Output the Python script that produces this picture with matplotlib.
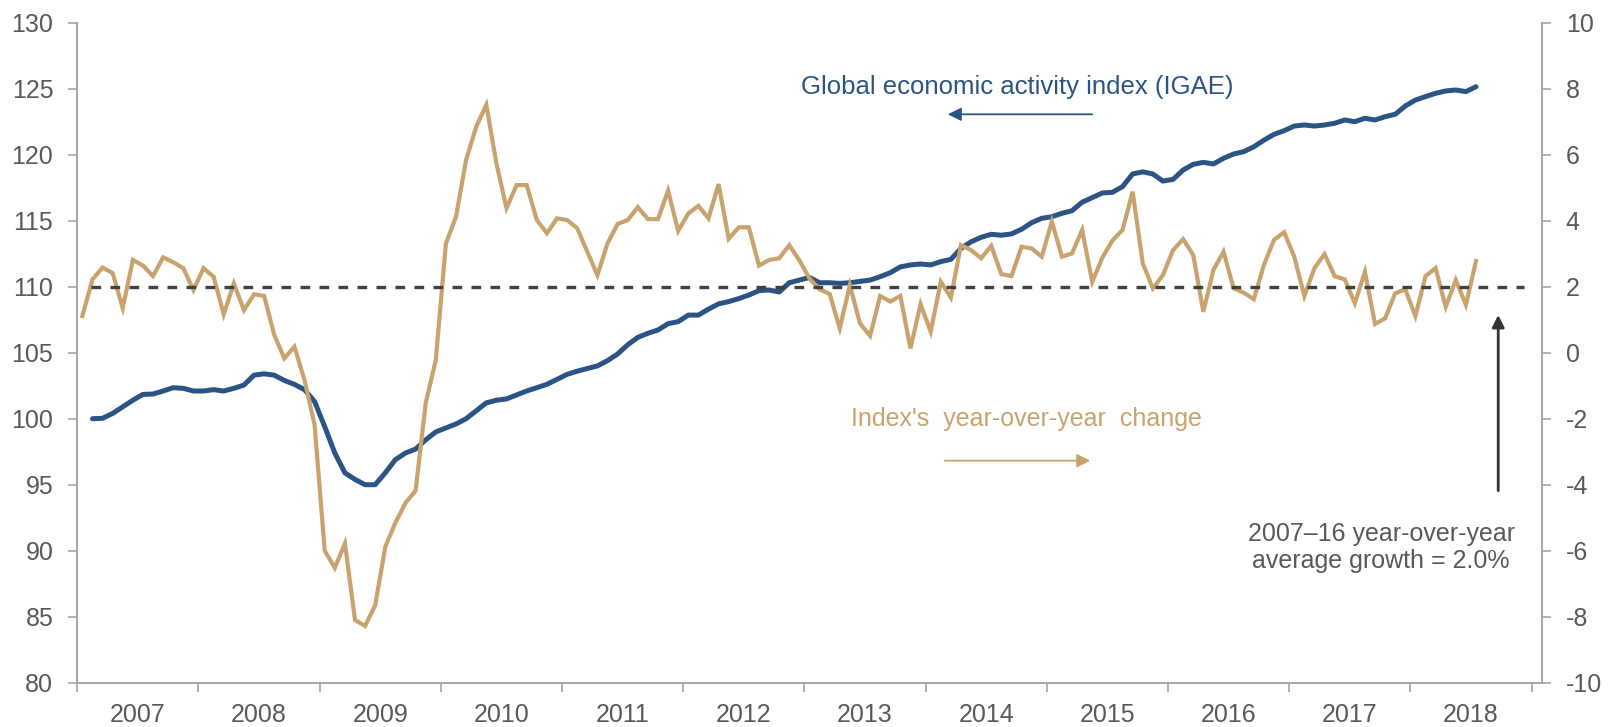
import numpy as np
import matplotlib

matplotlib.use("Agg")
import matplotlib.pyplot as plt

plt.rcParams["font.family"] = ["Liberation Sans", "DejaVu Sans"]
plt.rcParams["axes.unicode_minus"] = False

# 月度数据：年同比从 2007-01 起，指数从 2007-02 起，均到 2018 年中
years = [str(y) for y in range(2007, 2019)]

yoy_change = [
    1.11, 2.22, 2.58, 2.41, 1.35, 2.81, 2.64, 2.32, 2.89, 2.74, 2.56, 1.90,
    2.56, 2.30, 1.16, 2.10, 1.29, 1.77, 1.72, 0.54, -0.17, 0.18, -0.83, -2.19,
    -6.00, -6.52, -5.78, -8.10, -8.28, -7.65, -5.88, -5.15, -4.55, -4.18, -1.53, -0.22,
    3.31, 4.12, 5.84, 6.85, 7.51, 5.74, 4.38, 5.08, 5.08, 4.02, 3.62, 4.07,
    4.02, 3.77, 3.06, 2.35, 3.31, 3.90, 4.02, 4.41, 4.05, 4.05, 4.91, 3.69,
    4.22, 4.45, 4.07, 5.11, 3.45, 3.80, 3.80, 2.64, 2.81, 2.86, 3.26, 2.80,
    2.25, 1.92, 1.78, 0.74, 2.05, 0.89, 0.51, 1.72, 1.55, 1.72, 0.13, 1.47,
    0.64, 2.15, 1.67, 3.26, 3.11, 2.86, 3.24, 2.38, 2.32, 3.21, 3.16, 2.91,
    3.97, 2.91, 3.01, 3.72, 2.15, 2.88, 3.40, 3.72, 4.88, 2.71, 1.95, 2.35,
    3.11, 3.44, 2.96, 1.24, 2.51, 3.06, 1.95, 1.82, 1.62, 2.66, 3.42, 3.65,
    2.91, 1.72, 2.56, 2.99, 2.32, 2.22, 1.50, 2.45, 0.87, 1.04, 1.80, 1.92,
    1.11, 2.32, 2.56, 1.39, 2.20, 1.45, 2.78,
]

igae = [
    100.0, 100.03, 100.4, 100.9, 101.4, 101.84, 101.87, 102.1, 102.35, 102.3, 102.1,
    102.1, 102.2, 102.1, 102.3, 102.55, 103.3, 103.4, 103.3, 102.9, 102.6, 102.2,
    101.3, 99.4, 97.4, 95.9, 95.4, 95.0, 95.0, 95.9, 96.9, 97.4, 97.7, 98.4,
    99.0, 99.3, 99.6, 100.0, 100.6, 101.2, 101.4, 101.5, 101.8, 102.1, 102.35,
    102.6, 102.98, 103.36, 103.6, 103.8, 104.0, 104.4, 104.9, 105.6, 106.16, 106.47,
    106.72, 107.2, 107.35, 107.85, 107.85, 108.3, 108.7, 108.87, 109.1, 109.37, 109.7,
    109.75, 109.6, 110.3, 110.5, 110.7, 110.3, 110.3, 110.25, 110.3, 110.4, 110.5,
    110.76, 111.06, 111.5, 111.65, 111.72, 111.65, 111.9, 112.07, 112.9, 113.4, 113.74,
    113.97, 113.9, 114.0, 114.35, 114.85, 115.18, 115.3, 115.56, 115.76, 116.4, 116.75,
    117.1, 117.15, 117.58, 118.54, 118.7, 118.54, 118.0, 118.13, 118.84, 119.27, 119.42,
    119.3, 119.73, 120.05, 120.23, 120.6, 121.1, 121.54, 121.82, 122.17, 122.25, 122.17,
    122.25, 122.38, 122.63, 122.5, 122.76, 122.63, 122.88, 123.06, 123.69, 124.14, 124.4,
    124.65, 124.83, 124.9, 124.78, 125.15,
]

avg_growth = 2.0  # 2007–16 年同比平均增速

BLUE = "#2b5484"
TAN = "#c8a36e"
GREY_TXT = "#595959"
GREY_AX = "#a6a6a6"

# 以月为横坐标单位，类目居中
x_yoy = np.arange(len(yoy_change)) + 0.5
x_igae = np.arange(len(igae)) + 1.5

fig = plt.figure(figsize=(16.17, 7.27), dpi=100)
ax = fig.add_axes([0.0478, 0.0609, 0.9056, 0.9079])
ax2 = ax.twinx()

ax.plot(x_igae, igae, color=BLUE, lw=3.6, solid_capstyle="round", zorder=3)
ax2.plot(x_yoy, yoy_change, color=TAN, lw=3.0, solid_joinstyle="miter", zorder=3)
ax2.hlines(avg_growth, 1.4, 143.3, colors="#404040", lw=2.4,
           linestyles=(0, (2.9, 2.8)), zorder=4)

ax.set_xlim(0, 145)
ax.set_ylim(80, 130)
ax2.set_ylim(-10, 10)
ax.set_yticks(np.arange(80, 131, 5))
ax2.set_yticks(np.arange(-10, 11, 2))

# 年份刻度：主刻度在年界，标签放在年中
ax.set_xticks(np.arange(0, 145, 12))
ax.set_xticklabels([])
ax.set_xticks(np.arange(6, 144, 12), minor=True)
ax.set_xticklabels(years, minor=True)
ax.tick_params(axis="x", which="major", length=6.5, width=1.2, color=GREY_AX)
ax.tick_params(axis="x", which="minor", length=0, pad=14.5,
               labelsize=18, labelcolor=GREY_TXT)
ax.tick_params(axis="y", length=6.5, width=1.2, color=GREY_AX, pad=10.8,
               labelsize=18, labelcolor=GREY_TXT)
ax2.tick_params(axis="y", length=6.5, width=1.2, color=GREY_AX, pad=10.8,
                labelsize=18, labelcolor=GREY_TXT)

for a in (ax, ax2):
    a.spines["top"].set_visible(False)
    for s in ("left", "right", "bottom"):
        a.spines[s].set_color(GREY_AX)
        a.spines[s].set_linewidth(1.3)

# 注释
ax.text(93.1, 125.13, "Global economic activity index (IGAE)", color=BLUE,
        fontsize=18.5, ha="center", va="center")
ax.annotate("", xy=(86.2, 123.06), xytext=(100.5, 123.06),
            arrowprops=dict(arrowstyle="-|>", color=BLUE, lw=1.3,
                            mutation_scale=20, shrinkA=0, shrinkB=0))

ax.text(94.0, 100.0, "Index's  year-over-year  change", color=TAN,
        fontsize=18, ha="center", va="center")
ax.annotate("", xy=(100.3, 96.82), xytext=(85.9, 96.82),
            arrowprops=dict(arrowstyle="-|>", color=TAN, lw=1.3,
                            mutation_scale=20, shrinkA=0, shrinkB=0))

ax.annotate("", xy=(140.7, 107.86), xytext=(140.7, 94.55),
            arrowprops=dict(arrowstyle="-|>", color="#333333", lw=2.0,
                            mutation_scale=18, shrinkA=0, shrinkB=0))
ax.text(129.1, 90.26, "2007–16 year-over-year\naverage growth = 2.0%",
        color=GREY_TXT, fontsize=18, ha="center", va="center",
        multialignment="center", linespacing=1.15)

fig.savefig("out.png", dpi=100)
